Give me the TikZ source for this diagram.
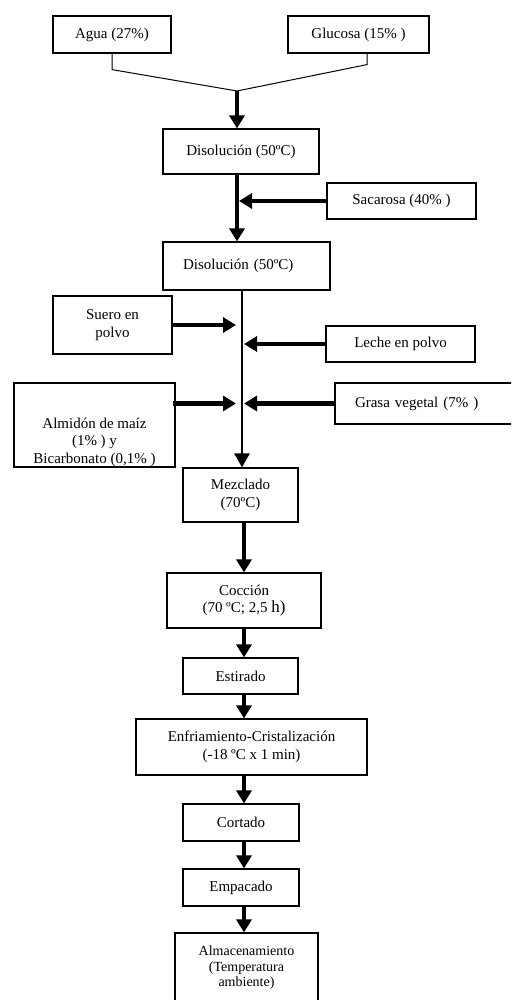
\documentclass[tikz,border=0pt]{standalone}
\usepackage{fontspec}
\setmainfont{Liberation Serif}
\usetikzlibrary{arrows.meta}

\begin{document}
\begin{tikzpicture}[x=1pt, y=-1pt,
    every node/.style={font=\fontsize{15}{17.5}\selectfont},
    caja/.style={draw, line width=1.2pt, align=center, inner sep=0pt},
    linea/.style={line width=1pt},
    grueso/.style={line width=4.5pt, -{Triangle[length=13pt, width=15pt]}},
    medio/.style={line width=2.7pt, -{Triangle[length=14pt, width=15pt]}}]
  \useasboundingbox (0,0) rectangle (511,1000);
  \clip (0,0) rectangle (511,1000);
  % ejes de las flechas
  \coordinate (union) at (237,91);
  \coordinate (eje) at (242,0);
  \coordinate (izq) at (236,0);
  \coordinate (der) at (244,0);
  \coordinate (ejeabajo) at (244,0);
  % materias primas
  \node[caja, minimum width=118pt, minimum height=37pt] (agua) at (112,34.5) {Agua (27\%)};
  \node[caja, minimum width=141pt, minimum height=37pt] (glucosa) at (358.5,34.5) {Glucosa (15\% )};
  \node[caja, minimum width=156pt, minimum height=45pt] (dis1) at (241,151.5) {Disolución (50ºC)};
  \node[caja, minimum width=149pt, minimum height=36pt] (sacarosa) at (401.5,201) {Sacarosa (40\% )};
  \node[caja, minimum width=167pt, minimum height=48pt, text width=127pt, align=left] (dis2) at (246.5,266) {Disolución (50ºC)};
  \node[caja, minimum width=119pt, minimum height=58pt] (suero) at (112.5,325) {Suero en\\polvo};
  \node[caja, minimum width=149pt, minimum height=36pt] (leche) at (400.5,344) {Leche en polvo};
  \node[caja, minimum width=161pt, minimum height=84pt] (almidon) at (94.5,425) {};
  \node[align=center] (almidontxt) at (94.5,442) {Almidón de maíz\\(1\% ) y\\Bicarbonato (0,1\% )};
  \node[caja, minimum width=185pt, minimum height=41pt, text width=145pt, align=left] (grasa) at (427.5,403.5) {Grasa vegetal (7\% )};  % sigue fuera del margen
  % proceso
  \node[caja, minimum width=115pt, minimum height=54pt] (mezclado) at (240.5,495) {Mezclado\\(70ºC)};
  \node[caja, minimum width=154pt, minimum height=55pt] (coccion) at (244,600.5) {Cocción\\(70 ºC; 2,5 {\fontsize{17}{17}\selectfont h)}};
  \node[caja, minimum width=115pt, minimum height=36pt] (estirado) at (240.5,676) {Estirado};
  \node[caja, minimum width=231pt, minimum height=56pt] (enfriamiento) at (251.5,747) {Enfriamiento-Cristalización\\(-18 ºC x 1 min)};
  \node[caja, minimum width=116pt, minimum height=37pt] (cortado) at (241,822.5) {Cortado};
  \node[caja, minimum width=116pt, minimum height=37pt] (empacado) at (241,887.5) {Empacado};
  \node[caja, minimum width=143pt, minimum height=70pt, font=\fontsize{14}{15.5}\selectfont] (almacen) at (246.5,968) {Almacenamiento\\(Temperatura\\ambiente)};  % cortada abajo
  % uniones
  \draw[linea] (agua.south) -- ++(0,16) -- (union);
  \draw[linea] ([xshift=8.5pt]glucosa.south) -- ++(0,11) -- (union);
  \draw[grueso] (union) -- (union |- dis1.north);
  \draw[grueso] (dis1.south -| union) -- (dis2.north -| union);
  \draw[grueso] (sacarosa.west) -- ([xshift=2pt]union |- sacarosa.west);
  \draw[medio] (dis2.south -| eje) -- (mezclado.north -| eje);
  \draw[grueso] (suero.east) -- (izq |- suero.east);
  \draw[grueso] (leche.west) -- (der |- leche.west);
  \draw[grueso] ([xshift=-3pt]almidon.east |- grasa.west) -- (izq |- grasa.west);
  \draw[grueso] (grasa.west) -- (der |- grasa.west);
  \draw[grueso] (mezclado.south -| ejeabajo) -- (coccion.north -| ejeabajo);
  \draw[grueso] (coccion.south -| ejeabajo) -- (estirado.north -| ejeabajo);
  \draw[grueso] (estirado.south -| ejeabajo) -- (enfriamiento.north -| ejeabajo);
  \draw[grueso] (enfriamiento.south -| ejeabajo) -- (cortado.north -| ejeabajo);
  \draw[grueso] (cortado.south -| ejeabajo) -- (empacado.north -| ejeabajo);
  \draw[grueso] (empacado.south -| ejeabajo) -- (almacen.north -| ejeabajo);
\end{tikzpicture}
\end{document}
